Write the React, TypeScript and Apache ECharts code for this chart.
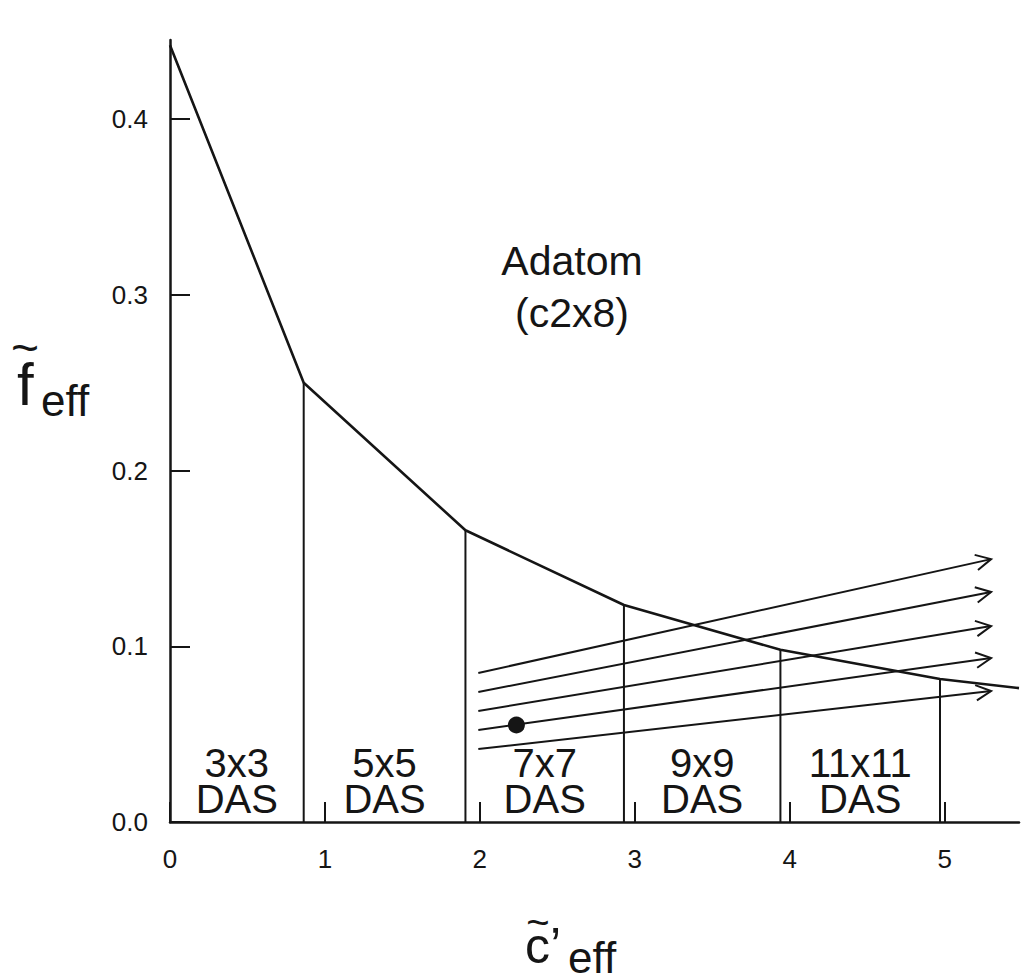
import React, { useEffect, useRef } from "react";
import * as echarts from "echarts";

const FONT = "'Liberation Sans', Arial, Helvetica, sans-serif";
const INK = "#151515";

// Curve f_eff vs c'_eff (vertices at DAS boundaries)
const curveX = [0, 0.863, 1.907, 2.93, 3.94, 4.97, 5.48];
const curveY = [0.442, 0.25, 0.166, 0.1235, 0.098, 0.0814, 0.0762];

// DAS regions (between consecutive boundaries)
const dasLabels = ["3x3", "5x5", "7x7", "9x9", "11x11"];

// Arrows
const arrowStartX = 1.99;
const arrowEndX = 5.3;
const arrowStartY = [0.0848, 0.074, 0.0632, 0.0524, 0.0415];
const arrowEndY = [0.1496, 0.1309, 0.1115, 0.0933, 0.0745];

// Dot
const dotPoint = [2.236, 0.0552];

// Ticks
const xTicks = [0, 1, 2, 3, 4, 5];
const yTicks = [0, 0.1, 0.2, 0.3, 0.4];

const isTick = (list: number[], v: number) => list.some((t) => Math.abs(t - v) < 1e-6);

export default function App() {
  const ref = useRef<HTMLDivElement>(null);
  useEffect(() => {
    if (!ref.current) return;
    const chart = echarts.init(ref.current, undefined, { renderer: "svg" });

    const txt = (
      text: string,
      x: number,
      y: number,
      size: number,
      align = "left",
      lineHeight?: number
    ) => ({
      type: "text",
      x,
      y,
      style: {
        text,
        fontSize: size,
        fontFamily: FONT,
        fill: INK,
        align,
        textAlign: align,
        verticalAlign: "middle",
        textVerticalAlign: "middle",
        lineHeight: lineHeight ?? size,
      },
    });

    const tickRich = {
      t: { fontSize: 26, fontFamily: FONT, color: INK, lineHeight: 28 },
    };

    const option: any = {
      animation: false,
      backgroundColor: "#ffffff",
      grid: { left: 170, right: 0, top: 40, bottom: 156, containLabel: false },
      xAxis: {
        type: "value",
        min: 0,
        max: 5.48,
        interval: 1,
        splitLine: { show: false },
        axisLine: { show: true, lineStyle: { color: INK, width: 2.5 } },
        axisTick: {
          show: true,
          inside: true,
          length: 20,
          lineStyle: { color: INK, width: 2 },
          customValues: xTicks,
        },
        axisLabel: {
          show: true,
          fontSize: 26,
          fontFamily: FONT,
          color: INK,
          margin: 23,
          rich: tickRich,
          formatter: (v: number) =>
            isTick(xTicks, v) ? "{t|" + String(Math.round(v)) + "}" : "",
        },
      },
      yAxis: {
        type: "value",
        min: 0,
        max: 0.445,
        interval: 0.1,
        splitLine: { show: false },
        axisLine: { show: true, lineStyle: { color: INK, width: 2.5 } },
        axisTick: {
          show: true,
          inside: true,
          length: 20,
          lineStyle: { color: INK, width: 2 },
          customValues: yTicks,
        },
        axisLabel: {
          show: true,
          fontSize: 26,
          fontFamily: FONT,
          color: INK,
          margin: 22,
          rich: tickRich,
          formatter: (v: number) => (isTick(yTicks, v) ? "{t|" + v.toFixed(1) + "}" : ""),
        },
      },
      graphic: [
        // y-axis title: f~ eff
        txt("~", 11, 347, 48, "left", 14),
        txt("f", 17, 384, 60, "left", 60),
        txt("eff", 41, 400, 44, "left", 34),
        // x-axis title: c~' eff
        txt("~", 538, 922, 40, "center", 12),
        txt("c\u2019", 525, 946, 50, "left", 36),
        txt("eff", 568, 957, 44, "left", 28),
        // annotation
        txt("Adatom\n(c2x8)", 572, 287, 41, "center", 52),
      ],
      series: [
        {
          type: "line",
          data: curveX.map((x, i) => [x, curveY[i]]),
          symbol: "none",
          lineStyle: { color: INK, width: 2.6 },
          z: 3,
        },
        {
          type: "custom",
          data: curveX.slice(1, 6).map((x, i) => [x, curveY[i + 1]]),
          renderItem: (params: any, api: any) => {
            const x = api.value(0);
            const y = api.value(1);
            const p0 = api.coord([x, 0]);
            const p1 = api.coord([x, y]);
            return {
              type: "line",
              shape: { x1: p0[0], y1: p0[1], x2: p1[0], y2: p1[1] },
              style: { stroke: INK, lineWidth: 2 },
            };
          },
          z: 2,
        },
        {
          type: "custom",
          data: dasLabels.map((_, i) => [curveX[i], curveX[i + 1], i]),
          renderItem: (params: any, api: any) => {
            const x0 = api.value(0);
            const x1 = api.value(1);
            const idx = api.value(2);
            const p = api.coord([(x0 + x1) / 2, 0]);
            return {
              type: "text",
              x: p[0],
              y: p[1] - 41,
              style: {
                text: dasLabels[idx] + "\nDAS",
                fontSize: 40,
                fontFamily: FONT,
                fill: INK,
                lineHeight: 36,
                align: "center",
                textAlign: "center",
                verticalAlign: "middle",
                textVerticalAlign: "middle",
              },
            };
          },
          z: 4,
        },
        {
          type: "custom",
          data: arrowStartY.map((s, i) => [arrowStartX, s, arrowEndX, arrowEndY[i]]),
          renderItem: (params: any, api: any) => {
            const p1 = api.coord([api.value(0), api.value(1)]);
            const p2 = api.coord([api.value(2), api.value(3)]);
            const a = Math.atan2(p2[1] - p1[1], p2[0] - p1[0]);
            const L = 17;
            const th = (27 * Math.PI) / 180;
            const w1 = [p2[0] - L * Math.cos(a - th), p2[1] - L * Math.sin(a - th)];
            const w2 = [p2[0] - L * Math.cos(a + th), p2[1] - L * Math.sin(a + th)];
            return {
              type: "group",
              children: [
                {
                  type: "line",
                  shape: { x1: p1[0], y1: p1[1], x2: p2[0], y2: p2[1] },
                  style: { stroke: INK, lineWidth: 2 },
                },
                {
                  type: "polyline",
                  shape: { points: [w1, p2, w2] },
                  style: { stroke: INK, lineWidth: 2, fill: null },
                },
              ],
            };
          },
          z: 3,
        },
        {
          type: "scatter",
          data: [dotPoint],
          symbol: "circle",
          symbolSize: 17,
          itemStyle: { color: INK, opacity: 1 },
          z: 5,
        },
      ],
    };
    chart.setOption(option);
    return () => chart.dispose();
  }, []);

  return (
    <div
      ref={ref}
      style={{ position: "fixed", left: 0, top: 0, width: 1022, height: 978, background: "#fff" }}
    />
  );
}
